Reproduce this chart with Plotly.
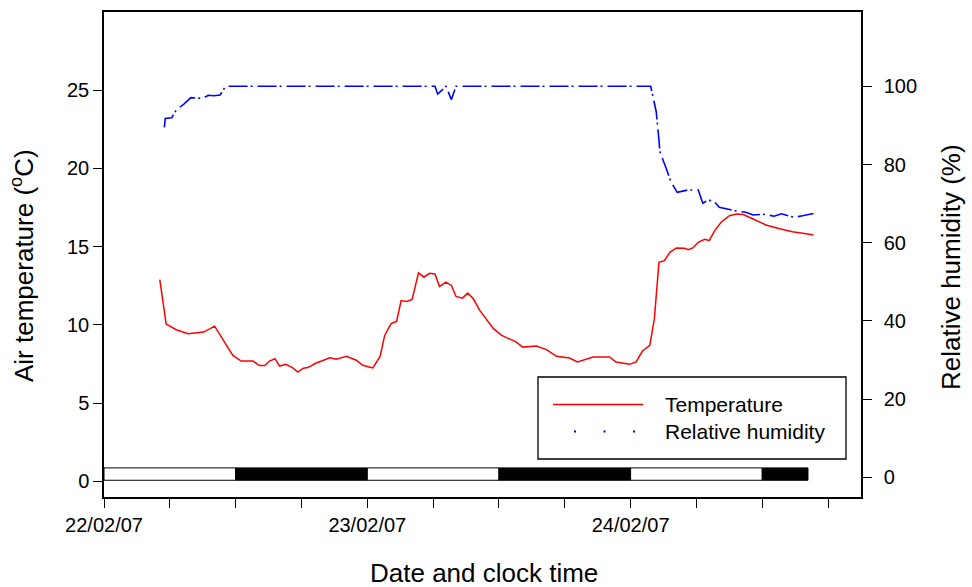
import pandas as pd
import plotly.graph_objects as go

# Air temperature (deg C) logged over the three days
temp_time = [
    "2007-02-22 05:05", "2007-02-22 05:40", "2007-02-22 06:35", "2007-02-22 07:40",
    "2007-02-22 09:05", "2007-02-22 10:05", "2007-02-22 11:10", "2007-02-22 11:45",
    "2007-02-22 12:30", "2007-02-22 13:35", "2007-02-22 14:10", "2007-02-22 14:40",
    "2007-02-22 15:05", "2007-02-22 15:35", "2007-02-22 16:00", "2007-02-22 16:35",
    "2007-02-22 17:10", "2007-02-22 17:40", "2007-02-22 18:10", "2007-02-22 18:35",
    "2007-02-22 19:15", "2007-02-22 19:40", "2007-02-22 20:35", "2007-02-22 21:10",
    "2007-02-22 22:05", "2007-02-22 23:00", "2007-02-22 23:35", "2007-02-23 00:30",
    "2007-02-23 01:10", "2007-02-23 01:35", "2007-02-23 02:10", "2007-02-23 02:40",
    "2007-02-23 03:05", "2007-02-23 03:35", "2007-02-23 04:05", "2007-02-23 04:40",
    "2007-02-23 05:10", "2007-02-23 05:40", "2007-02-23 06:10", "2007-02-23 06:35",
    "2007-02-23 07:10", "2007-02-23 07:40", "2007-02-23 08:05", "2007-02-23 08:40",
    "2007-02-23 09:10", "2007-02-23 09:40", "2007-02-23 10:15", "2007-02-23 11:30",
    "2007-02-23 12:15", "2007-02-23 13:35", "2007-02-23 14:10", "2007-02-23 15:25",
    "2007-02-23 16:20", "2007-02-23 17:15", "2007-02-23 18:25", "2007-02-23 19:10",
    "2007-02-23 20:00", "2007-02-23 20:35", "2007-02-23 22:05", "2007-02-23 22:40",
    "2007-02-23 23:55", "2007-02-24 00:30", "2007-02-24 01:05", "2007-02-24 01:45",
    "2007-02-24 02:10", "2007-02-24 02:35", "2007-02-24 03:05", "2007-02-24 03:35",
    "2007-02-24 04:10", "2007-02-24 04:55", "2007-02-24 05:15", "2007-02-24 05:40",
    "2007-02-24 06:10", "2007-02-24 06:45", "2007-02-24 07:10", "2007-02-24 07:40",
    "2007-02-24 08:15", "2007-02-24 09:00", "2007-02-24 09:40", "2007-02-24 10:15",
    "2007-02-24 11:10", "2007-02-24 12:20", "2007-02-24 13:35", "2007-02-24 14:45",
    "2007-02-24 16:00", "2007-02-24 16:40",
]
temp_c = [
    12.90, 10.05, 9.69, 9.44,
    9.54, 9.92, 8.69, 8.05,
    7.69, 7.69, 7.40, 7.40,
    7.69, 7.84, 7.37, 7.48,
    7.27, 6.99, 7.23, 7.27,
    7.53, 7.63, 7.90, 7.80,
    7.99, 7.74, 7.42, 7.25,
    7.99, 9.33, 10.08, 10.22,
    11.56, 11.50, 11.63, 13.33,
    13.05, 13.30, 13.26, 12.45,
    12.73, 12.52, 11.82, 11.71,
    12.03, 11.67, 10.93, 9.76,
    9.33, 8.90, 8.58, 8.65,
    8.42, 7.99, 7.88, 7.63,
    7.84, 7.95, 7.95, 7.63,
    7.48, 7.63, 8.33, 8.69,
    10.40, 14.00, 14.11, 14.64,
    14.92, 14.90, 14.80, 14.92,
    15.28, 15.47, 15.39, 16.03,
    16.56, 16.98, 17.09, 17.05,
    16.77, 16.39, 16.14, 15.96,
    15.82, 15.75,
]

# Relative humidity (%)
rh_time = [
    "2007-02-22 05:30", "2007-02-22 05:35", "2007-02-22 06:10", "2007-02-22 06:35",
    "2007-02-22 07:20", "2007-02-22 07:55", "2007-02-22 09:00", "2007-02-22 09:30",
    "2007-02-22 10:00", "2007-02-22 10:35", "2007-02-22 11:05", "2007-02-23 06:10",
    "2007-02-23 06:25", "2007-02-23 07:10", "2007-02-23 07:40", "2007-02-23 08:00",
    "2007-02-23 08:05", "2007-02-24 01:50", "2007-02-24 02:20", "2007-02-24 02:35",
    "2007-02-24 02:40", "2007-02-24 03:15", "2007-02-24 03:40", "2007-02-24 04:15",
    "2007-02-24 04:35", "2007-02-24 05:15", "2007-02-24 06:10", "2007-02-24 06:35",
    "2007-02-24 06:55", "2007-02-24 07:30", "2007-02-24 08:05", "2007-02-24 08:50",
    "2007-02-24 09:40", "2007-02-24 10:30", "2007-02-24 11:10", "2007-02-24 12:05",
    "2007-02-24 13:05", "2007-02-24 13:45", "2007-02-24 14:10", "2007-02-24 14:55",
    "2007-02-24 15:40", "2007-02-24 16:40",
]
rh_pct = [
    89.5, 91.8, 91.95, 93.9,
    95.6, 97.1, 96.9, 97.7,
    97.6, 97.8, 100.0, 100.0,
    98.0, 100.0, 96.6, 99.7,
    100.0, 100.0, 93.5, 86.3,
    83.3, 79.0, 75.6, 72.9,
    73.1, 73.5, 73.5, 70.1,
    70.7, 70.9, 69.1, 68.6,
    68.1, 67.8, 67.1, 67.3,
    66.8, 67.4, 67.1, 66.5,
    66.9, 67.5,
]

# Light / dark periods shown as the bar along the bottom
period_edges = [
    "2007-02-22 00:00", "2007-02-22 12:00", "2007-02-23 00:00", "2007-02-23 12:00",
    "2007-02-24 00:00", "2007-02-24 12:00", "2007-02-24 16:10",
]
period_fill = ["white", "black", "white", "black", "white", "black"]

temp_ticks = [0, 5, 10, 15, 20, 25]
rh_ticks = [0, 20, 40, 60, 80, 100]

FONT = "Liberation Sans, Arial, sans-serif"
W, H = 972, 587
ML, MR, MT, MB = 104, 111, 12, 90
PW, PH = W - ML - MR, H - MT - MB


def px_x(p):
    return (p - ML) / PW


def px_y(p):
    return (H - MB - p) / PH


fig = go.Figure()
fig.add_trace(go.Scatter(
    x=pd.to_datetime(temp_time), y=temp_c, mode="lines", name="Temperature",
    line=dict(color="#ff0000", width=1.5), showlegend=False,
))
fig.add_trace(go.Scatter(
    x=pd.to_datetime(rh_time), y=rh_pct, mode="lines", name="Relative humidity",
    yaxis="y2", line=dict(color="#0000ff", width=1.6, dash="19px,3px,2px,5px"),
    showlegend=False,
))

for i, fill in enumerate(period_fill):
    fig.add_shape(
        type="rect", xref="x", yref="y",
        x0=period_edges[i], x1=period_edges[i + 1], y0=0.07, y1=0.86,
        fillcolor=fill, line=dict(color="black", width=1), layer="above",
    )

# Legend box drawn by hand so the sample lines are long
fig.add_shape(type="rect", xref="paper", yref="paper",
              x0=px_x(538), x1=px_x(846), y0=px_y(459), y1=px_y(377),
              line=dict(color="black", width=1.3), fillcolor="white", layer="above")
fig.add_shape(type="line", xref="paper", yref="paper",
              x0=px_x(553), x1=px_x(643), y0=px_y(404.5), y1=px_y(404.5),
              line=dict(color="#ff0000", width=1.5), layer="above")
fig.add_shape(type="line", xref="paper", yref="paper",
              x0=px_x(574), x1=px_x(640), y0=px_y(431.5), y1=px_y(431.5),
              line=dict(color="#0000ff", width=2, dash="2px,27.5px"), layer="above")
for label, yy in [("Temperature", 404.5), ("Relative humidity", 431.5)]:
    fig.add_annotation(text=label, xref="paper", yref="paper", x=px_x(663), y=px_y(yy),
                       xanchor="left", yanchor="middle", showarrow=False,
                       font=dict(family=FONT, size=21, color="black"))

# Axis titles
title_font = dict(family=FONT, size=26, color="black")
fig.add_annotation(text="Air temperature (<sup>o</sup>C)", xref="paper", yref="paper",
                   x=px_x(22), y=px_y(266), textangle=-90, showarrow=False,
                   xanchor="center", yanchor="middle", font=title_font)
fig.add_annotation(text="Relative humidity (%)", xref="paper", yref="paper",
                   x=px_x(951), y=px_y(267), textangle=-90, showarrow=False,
                   xanchor="center", yanchor="middle", font=title_font)
fig.add_annotation(text="Date and clock time", xref="paper", yref="paper",
                   x=px_x(484), y=px_y(573), showarrow=False,
                   xanchor="center", yanchor="middle", font=title_font)

axis_common = dict(
    showline=True, linecolor="black", linewidth=1.5, showgrid=False, zeroline=False,
    ticks="outside", ticklen=9, tickwidth=1.2, tickcolor="black", automargin=False,
    tickfont=dict(family=FONT, size=20, color="black"),
)

fig.update_layout(
    width=W, height=H,
    margin=dict(l=ML, r=MR, t=MT, b=MB),
    plot_bgcolor="white", paper_bgcolor="white",
    showlegend=False,
    xaxis=dict(
        type="date", range=["2007-02-22 00:00", "2007-02-24 21:00"],
        tick0="2007-02-22", dtick=86400000, tickformat="%d/%m/%y",
        mirror=True,
        minor=dict(dtick=21600000, ticks="outside", ticklen=9, tickwidth=1.2,
                   tickcolor="black", showgrid=False),
        **axis_common,
    ),
    yaxis=dict(range=[-1, 30], tickvals=temp_ticks, **axis_common),
    yaxis2=dict(
        overlaying="y", side="right", range=[-5, 119], tickvals=rh_ticks,
        ticklabelstandoff=8, **axis_common,
    ),
)

fig.write_html("out.html")
